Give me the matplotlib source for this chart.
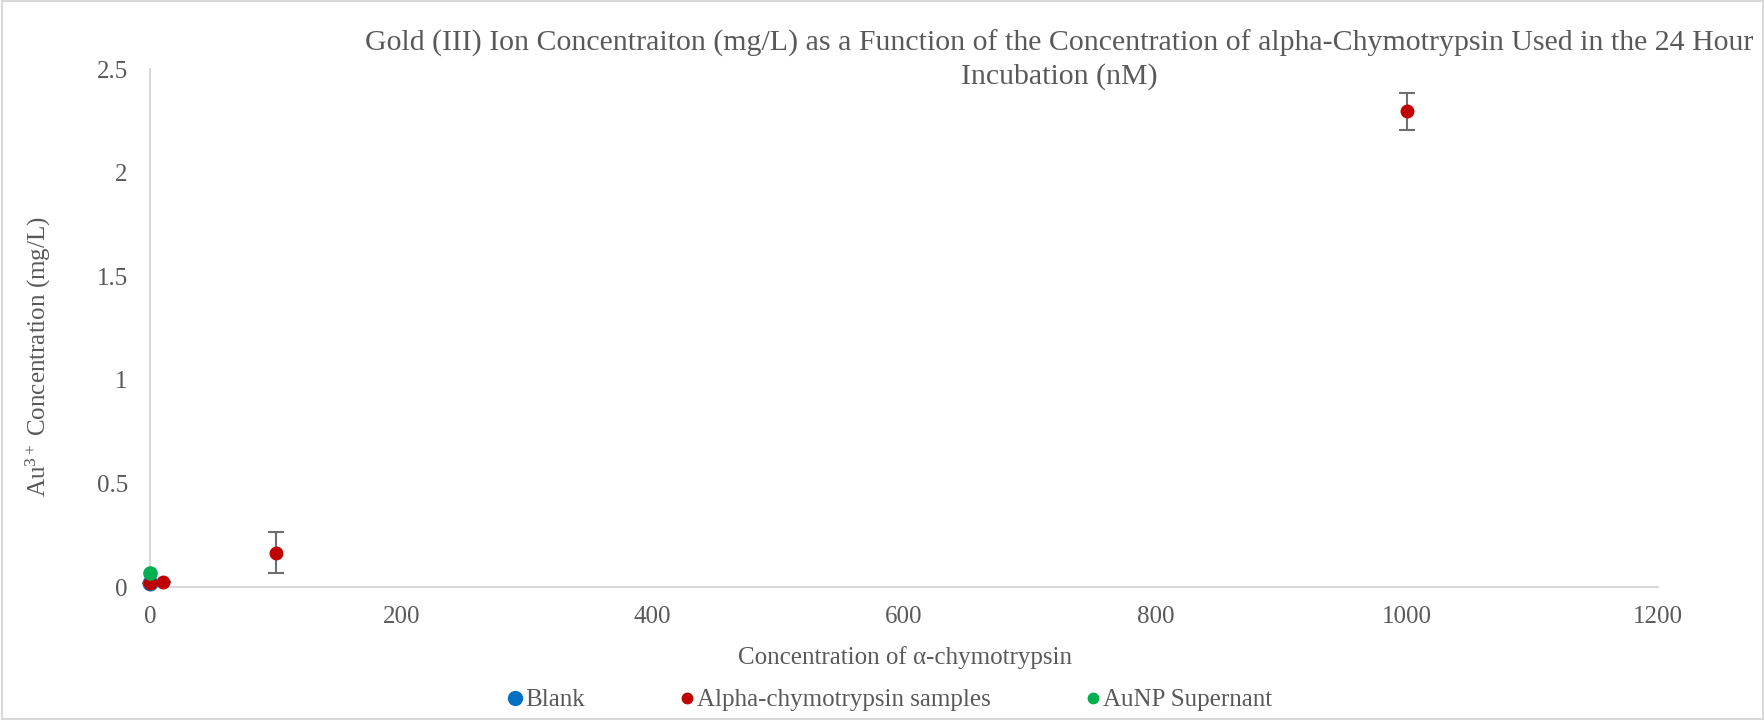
import numpy as np
import matplotlib.pyplot as plt
from matplotlib.lines import Line2D
from matplotlib.patches import Rectangle

# data
blank_x = [0]
blank_y = [0.02]

chymo_x = [0, 10, 100, 1000]
chymo_y = [0.02, 0.025, 0.166, 2.295]
chymo_err = [0, 0, 0.10, 0.09]

aunp_x = [0]
aunp_y = [0.068]

x_ticks = [0, 200, 400, 600, 800, 1000, 1200]
y_ticks = [0, 0.5, 1, 1.5, 2, 2.5]
y_tick_labels = ['0', '0.5', '1', '1.5', '2', '2.5']

plt.rcParams['font.family'] = ['Liberation Serif', 'DejaVu Serif']
plt.rcParams['mathtext.fontset'] = 'custom'
plt.rcParams['mathtext.rm'] = 'Liberation Serif'
plt.rcParams['mathtext.it'] = 'Liberation Serif:italic'
text_color = '#595959'
axis_color = '#D9D9D9'

fig = plt.figure(figsize=(17.65, 7.2), dpi=100)
ax = fig.add_axes([150 / 1765, 1 - 587 / 720, (1658 - 150) / 1765, (587 - 69) / 720])

ax.plot(blank_x, blank_y, 'o', color='#0070C0', markersize=10.5, zorder=3)
ax.errorbar(chymo_x, chymo_y, yerr=chymo_err, fmt='o', color='#C00000', markersize=9,
            ecolor='#6E6E6E', elinewidth=1.5, capsize=6, capthick=1.5, zorder=4)
ax.plot(aunp_x, aunp_y, 'o', color='#00B050', markersize=9.5, zorder=5)

ax.set_xlim(0, 1200)
ax.set_ylim(0, 2.5)
ax.set_xticks(x_ticks)
ax.set_yticks(y_ticks)
ax.set_yticklabels(y_tick_labels)
ax.tick_params(length=0, labelsize=18, colors=text_color, pad=14)
ax.tick_params(axis='y', pad=16)

for side in ['top', 'right']:
    ax.spines[side].set_visible(False)
for side in ['left', 'bottom']:
    ax.spines[side].set_color(axis_color)
    ax.spines[side].set_linewidth(1.5)
for art in ax.get_children():
    if hasattr(art, 'set_clip_on'):
        art.set_clip_on(False)

fig.text(1059 / 1765, 1 - 30 / 720,
         'Gold (III) Ion Concentraiton (mg/L) as a Function of the Concentration of alpha-Chymotrypsin Used in the 24 Hour\nIncubation (nM)',
         ha='center', va='top', fontsize=21.5, color=text_color, linespacing=1.3, multialignment='center')

fig.text(905 / 1765, 1 - 658 / 720, 'Concentration of α-chymotrypsin',
         ha='center', va='center', fontsize=18, color=text_color)
fig.text(38 / 1765, 1 - 357 / 720, r'Au$^{\mathrm{3+}}$ Concentration (mg/L)',
         ha='center', va='center', rotation=90, fontsize=18, color=text_color)

handles = [
    Line2D([], [], ls='none', marker='o', color='#0070C0', markersize=10),
    Line2D([], [], ls='none', marker='o', color='#C00000', markersize=7.5),
    Line2D([], [], ls='none', marker='o', color='#00B050', markersize=7.5),
]
labels = ['Blank', 'Alpha-chymotrypsin samples', 'AuNP Supernant']
leg = fig.legend(handles, labels, loc='center', bbox_to_anchor=(890 / 1765, 1 - 700 / 720),
                 ncol=3, frameon=False, fontsize=18, handlelength=0.6, handletextpad=0.1,
                 columnspacing=3.8, labelcolor=text_color)

fig.patches.append(Rectangle((0.001, 0.002), 0.998, 0.996, transform=fig.transFigure,
                             fill=False, edgecolor=axis_color, linewidth=1.5))

fig.savefig('out.png', dpi=100)
